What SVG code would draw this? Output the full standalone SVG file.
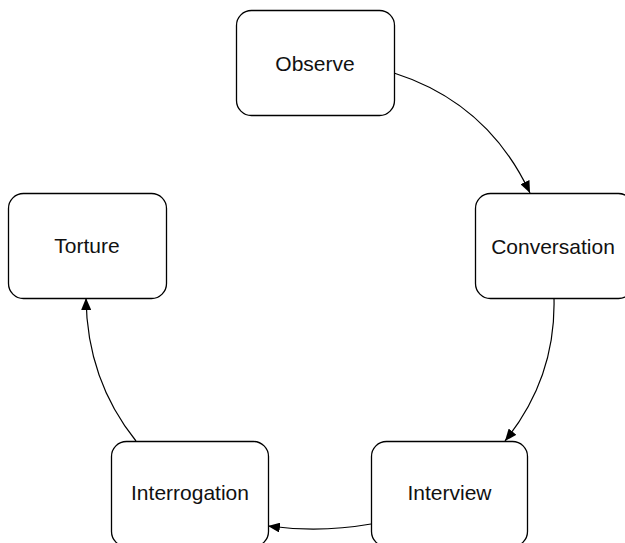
<svg xmlns="http://www.w3.org/2000/svg" width="625" height="543" viewBox="0 0 625 543">
<style>
.node rect{fill:#fff;stroke:#000;stroke-width:1.3}
.node text{font-family:"Liberation Sans",Arial,sans-serif;font-size:21px;fill:#111;text-anchor:middle}
.edge{fill:none;stroke:#000;stroke-width:1.2}
</style>
<defs>
<marker id="arr" viewBox="0 0 12 10" refX="12" refY="5" markerWidth="12" markerHeight="10" markerUnits="userSpaceOnUse" orient="auto">
<path d="M0,0 L12,5 L0,10 Z" fill="#000"/>
</marker>
</defs>
<rect width="625" height="543" fill="#fff"/>
<g id="connectors">
<path class="edge" d="M394,73 Q488,103 530,193" marker-end="url(#arr)"/>
<path class="edge" d="M554,298 Q556,378 505,441" marker-end="url(#arr)"/>
<path class="edge" d="M371,524 Q320,533 268,526" marker-end="url(#arr)"/>
<path class="edge" d="M136,441 Q87,380 86,298" marker-end="url(#arr)"/>
</g>
<g id="observe" class="node"><rect x="236.5" y="10.5" width="158" height="105" rx="15"/><text x="315" y="71">Observe</text></g>
<g id="conversation" class="node"><rect x="475.5" y="193.5" width="158" height="105" rx="15"/><text x="553" y="254">Conversation</text></g>
<g id="interview" class="node"><rect x="371.5" y="441.5" width="156" height="105" rx="15"/><text x="449.5" y="500">Interview</text></g>
<g id="interrogation" class="node"><rect x="111.5" y="441.5" width="157" height="105" rx="15"/><text x="190" y="500">Interrogation</text></g>
<g id="torture" class="node"><rect x="8.5" y="193.5" width="158" height="105" rx="15"/><text x="87" y="253">Torture</text></g>
</svg>
